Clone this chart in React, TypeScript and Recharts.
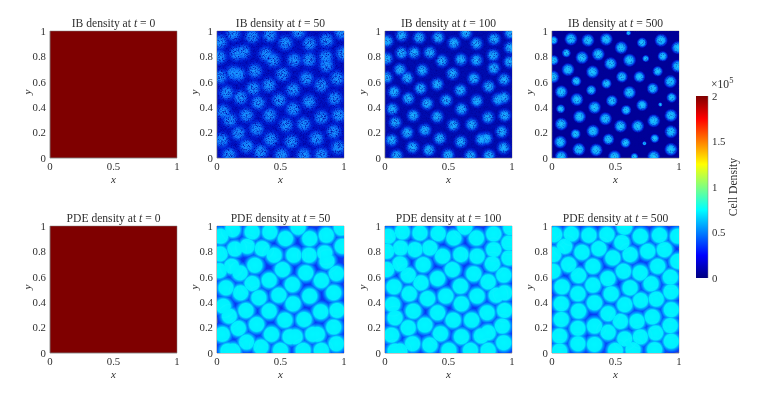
/**
 * IB / PDE cell density panels with a shared jet colorbar.
 * Each spot of cells is one scatter point as [x, y, spread].
 */
import { ScatterChart, Scatter, XAxis, YAxis, ReferenceArea, BarChart, Bar } from 'recharts'

type Spot = number[]

const xTicks = [0, 0.5, 1]
const yTicks = [0, 0.2, 0.4, 0.6, 0.8, 1]
const barTicks = [0, 0.5, 1, 1.5, 2]
const barData = [{ name: 'density', top: 2 }]

// jet colormap, fraction of the range -> colour
const jetOffsets = [0, 0.125, 0.375, 0.625, 0.875, 1]
const jetColors = ['#00007f', '#0000ff', '#00ffff', '#ffff00', '#ff0000', '#7f0000']

const ib50: Spot[] = [
  [.128,.979],[.277,.958],[.416,.966],[.639,.992],[.539,.906],[.730,.901],[.861,.927],[.024,.914],[.979,.992],
  [.154,.822],[.207,.835],[.385,.817],[.442,.770],[.607,.770],[.725,.775],[.856,.796],[.861,.730],[.992,.822],
  [.018,.796],[.128,.670],[.168,.660],[.298,.686],[.516,.660],[.704,.626],[.945,.626],[.024,.639],[.076,.513],
  [.285,.547],[.408,.573],[.599,.539],[.822,.573],[.186,.476],[.325,.435],[.490,.455],[.725,.442],[.927,.469],
  [.050,.364],[.102,.298],[.233,.338],[.416,.335],[.599,.385],[.822,.319],[.958,.338],[.312,.228],[.542,.259],
  [.683,.267],[.919,.207],[.037,.141],[.168,.194],[.424,.147],[.586,.128],[.783,.154],[.953,.084],[.233,.094],
  [.343,.050],[.097,.024],[.508,.024],[.683,.024],[.822,.024],
]
const ib100: Spot[] = [
  [.131,.966],[.270,.948],[.419,.948],[.636,.984],[.542,.906],[.720,.901],[.859,.937],[.018,.921],[.987,.984],
  [.131,.827],[.228,.830],[.353,.830],[.448,.764],[.597,.775],[.720,.770],[.851,.809],[.987,.869],[.013,.783],
  [.982,.757],[.118,.696],[.175,.631],[.293,.691],[.856,.707],[.531,.665],[.699,.626],[.013,.634],[.937,.618],
  [.071,.521],[.280,.547],[.411,.581],[.594,.534],[.817,.563],[.183,.469],[.332,.429],[.482,.455],[.723,.450],
  [.890,.461],[.935,.476],[.058,.385],[.223,.335],[.081,.280],[.411,.325],[.602,.385],[.812,.319],[.942,.335],
  [.537,.259],[.683,.264],[.314,.220],[.175,.199],[.919,.207],[.052,.141],[.432,.154],[.597,.128],[.759,.147],
  [.798,.154],[.217,.084],[.346,.063],[.935,.081],[.092,.018],[.497,.024],[.673,.018],[.819,.018],
]
const ib500: Spot[] = [
  [.013,.927,.7],[.149,.937],[.283,.927],[.427,.935],[.602,.984,.4],[.545,.869],[.709,.908,.8],[.859,.927],[.990,.869],
  [.113,.827,.7],[.236,.791],[.364,.817],[.461,.743],[.610,.770],[.738,.783,.55],[.872,.801,.8],[.013,.770,.8],
  [.126,.696],[.319,.678],[.832,.683,.8],[.990,.723],[.008,.639],[.191,.605,.8],[.429,.586,.8],[.550,.639,.9],
  [.688,.639,.9],[.932,.602],[.073,.521],[.309,.534,.8],[.610,.516],[.793,.547,.9],[.196,.461],[.471,.450,.9],
  [.709,.416,.9],[.942,.476,.8],[.068,.387,.7],[.335,.398],[.584,.377,.8],[.853,.421,.35],[.217,.325],[.421,.309],
  [.801,.293],[.937,.335],[.073,.267],[.539,.251],[.675,.251],[.186,.189,.8],[.322,.212],[.937,.207],[.065,.126],
  [.445,.147,.9],[.579,.120,.8],[.809,.154,.7],[.728,.115,.35],[.212,.068],[.348,.063],[.937,.068],[.073,.010],
  [.492,.010],[.649,.010,.6],[.801,.010],
]
const pde50: Spot[] = [
  [.123,.971],[.277,.953],[.416,.953],[.639,.990],[.539,.901],[.730,.901],[.861,.927],[.029,.919],[.979,.984],
  [.141,.819],[.238,.840],[.356,.822],[.450,.770],[.605,.770],[.725,.770],[.848,.788],[.866,.723],[.987,.840],
  [.024,.780],[.115,.683],[.181,.631],[.298,.691],[.516,.657],[.699,.631],[.940,.626],[.018,.649],[.071,.513],
  [.277,.547],[.411,.573],[.594,.539],[.822,.571],[.186,.474],[.330,.435],[.487,.455],[.730,.448],[.919,.474],
  [.050,.369],[.097,.291],[.228,.335],[.411,.330],[.599,.387],[.817,.325],[.945,.335],[.312,.225],[.534,.259],
  [.686,.264],[.919,.204],[.042,.147],[.168,.194],[.429,.147],[.575,.128],[.615,.128],[.755,.147],[.790,.147],
  [.233,.086],[.346,.047],[.085,.016],[.125,.016],[.500,.021],[.678,.021],[.822,.021],[.940,.073],
]
const pde100: Spot[] = [
  [.136,.953],[.275,.945],[.419,.940],[.628,.990],[.542,.906],[.720,.906],[.856,.937],[.026,.919],[.990,.985],
  [.976,.866],[.123,.827],[.236,.814],[.353,.827],[.453,.762],[.597,.775],[.725,.762],[.856,.814],[.013,.801],
  [.976,.749],[.118,.702],[.183,.613],[.301,.696],[.846,.702],[.531,.657],[.699,.623],[.935,.613],[.013,.657],
  [.071,.521],[.283,.552],[.414,.586],[.594,.526],[.812,.560],[.191,.466],[.335,.429],[.479,.448],[.725,.448],
  [.877,.455],[.942,.474],[.060,.382],[.223,.330],[.079,.277],[.414,.317],[.602,.387],[.804,.317],[.942,.335],
  [.537,.259],[.683,.259],[.314,.220],[.183,.199],[.924,.212],[.052,.141],[.437,.152],[.602,.128],[.759,.134],
  [.812,.160],[.217,.073],[.353,.063],[.935,.081],[.079,.016],[.118,.016],[.503,.021],[.673,.021],[.812,.021],
]
const pde500: Spot[] = [
  [.021,.932],[.152,.937],[.291,.927],[.432,.932],[.571,.990],[.696,.919],[.846,.927],[.990,.920],[.099,.840],
  [.236,.793],[.369,.822],[.479,.749],[.615,.775],[.754,.801],[.885,.814],[.013,.775],[.990,.722],[.131,.696],
  [.322,.683],[.832,.683],[.008,.644],[.209,.610],[.440,.586],[.563,.644],[.694,.631],[.932,.597],[.079,.521],
  [.322,.534],[.615,.513],[.780,.545],[.204,.466],[.466,.466],[.698,.414],[.937,.482],[.073,.387],[.335,.395],
  [.573,.380],[.821,.425],[.209,.330],[.442,.310],[.790,.284],[.939,.341],[.073,.264],[.539,.249],[.669,.249],
  [.204,.194],[.335,.212],[.931,.216],[.060,.134],[.442,.163],[.573,.111],[.696,.127],[.816,.158],[.204,.073],
  [.335,.067],[.939,.093],[.060,.016],[.500,.021],[.638,.027],[.808,.027],[.550,.870],
]

const FONT = '"Liberation Serif", serif'
const INK = '#303030'
const tickStyle = { fontSize: 10.8, fontFamily: FONT, fill: INK }
const axisNameStyle = { fontSize: 11, fontFamily: FONT, fill: INK, fontStyle: 'italic' }

interface PanelProps {
  id: string
  left: number
  top: number
  kind: string
  time: number
  base: string
  spots: Spot[]
  radius?: number
  stops?: [string, string, number][]
  noiseColor?: string
  grain?: string
}

const pdeStops: [string, string, number][] = [
  ['0%', '#00f6ff', 1],
  ['58%', '#00f0ff', 1],
  ['70%', '#00a4ff', 1],
  ['86%', '#0060ff', 1],
  ['100%', '#0a38f2', 1],
]

function Panel({ id, left, top, kind, time, base, spots, radius = 8, stops = pdeStops, noiseColor, grain = '3 0 0 0 -0.8' }: PanelProps) {
  const data = spots.map(s => ({ x: s[0], y: s[1], spread: s[2] ?? 1 }))
  const speckle = `url(#speckle-${id})`
  return (
    <div style={{ position: 'absolute', left: left - 34, top: top - 8, width: 172, height: 170 }}>
      <div style={{ position: 'absolute', left: 34, width: 127, top: -6, textAlign: 'center', fontFamily: FONT, fontSize: 11.6, lineHeight: '14px', color: INK, whiteSpace: 'nowrap' }}>
        {kind} density at <i>t</i> = {time}
      </div>
      <ScatterChart width={172} height={170} margin={{ top: 8, right: 11, bottom: 0, left: 0 }}>
        <defs>
          <radialGradient id={`spot-${id}`}>
            {stops.map(s => <stop key={s[0]} offset={s[0]} stopColor={s[1]} stopOpacity={s[2]} />)}
          </radialGradient>
          <filter id={`speckle-${id}`} x="-20%" y="-20%" width="140%" height="140%" colorInterpolationFilters="sRGB">
            <feTurbulence type="fractalNoise" baseFrequency="1.6" numOctaves="1" seed="4" result="noise" />
            <feColorMatrix in="noise" type="matrix" values={`0 0 0 0 0  0 0 0 0 0  0 0 0 0 0  ${grain}`} result="mask" />
            <feComposite in="SourceGraphic" in2="mask" operator="in" />
          </filter>
        </defs>
        <XAxis
          type="number"
          dataKey="x"
          domain={[0, 1]}
          ticks={xTicks}
          allowDataOverflow
          height={35}
          tickLine={false}
          tickSize={0}
          tickMargin={4}
          stroke="#808080"
          strokeWidth={0.5}
          tick={tickStyle}
          interval={0}
          label={{ value: 'x', position: 'insideBottom', offset: 10, style: axisNameStyle }}
        />
        <YAxis
          type="number"
          dataKey="y"
          domain={[0, 1]}
          ticks={yTicks}
          allowDataOverflow
          width={34}
          tickLine={false}
          tickSize={0}
          tickMargin={4}
          stroke="#808080"
          strokeWidth={0.5}
          tick={tickStyle}
          interval={0}
          label={{ value: 'y', angle: -90, position: 'insideLeft', offset: 11, style: axisNameStyle }}
        />
        <ReferenceArea x1={0} x2={1} y1={0} y2={1} fill={base} fillOpacity={1} stroke="#808080" strokeWidth={0.5} />
        {noiseColor && (
          <ReferenceArea
            x1={0}
            x2={1}
            y1={0}
            y2={1}
            shape={(p: any) => <rect x={p.x} y={p.y} width={p.width} height={p.height} fill={noiseColor} filter={speckle} />}
          />
        )}
        <Scatter
          data={data}
          isAnimationActive={false}
          shape={(p: any) => (
            <circle
              cx={p.cx}
              cy={p.cy}
              r={radius * p.payload.spread}
              fill={`url(#spot-${id})`}
              filter={noiseColor ? speckle : undefined}
              style={{ mixBlendMode: 'lighten' }}
            />
          )}
        />
      </ScatterChart>
    </div>
  )
}

function ColorBar() {
  return (
    <div style={{ position: 'absolute', left: 696, top: 86, width: 69, height: 200 }}>
      <div style={{ position: 'absolute', left: 15, top: -8, fontFamily: FONT, fontSize: 11.6, lineHeight: '14px', color: INK, whiteSpace: 'nowrap' }}>
        ×10<sup style={{ fontSize: 8.5, verticalAlign: 5, lineHeight: 0 }}>5</sup>
      </div>
      <BarChart width={69} height={200} data={barData} margin={{ top: 10, right: 0, bottom: 8, left: 0 }} barCategoryGap={0}>
        <defs>
          <linearGradient id="jet" x1="0" y1="1" x2="0" y2="0">
            {jetOffsets.map((o, i) => <stop key={o} offset={o} stopColor={jetColors[i]} />)}
          </linearGradient>
        </defs>
        <XAxis dataKey="name" hide />
        <YAxis
          orientation="right"
          type="number"
          domain={[0, 2]}
          ticks={barTicks}
          width={57}
          tickLine={false}
          tickSize={0}
          tickMargin={4}
          interval={0}
          stroke="#808080"
          strokeWidth={0.5}
          tick={{ ...tickStyle, textAnchor: 'start' }}
          label={{ value: 'Cell Density', angle: -90, position: 'insideRight', offset: 32, style: { ...tickStyle, fontSize: 11.6, textAnchor: 'middle' } }}
        />
        <Bar dataKey="top" fill="url(#jet)" isAnimationActive={false} />
      </BarChart>
    </div>
  )
}

const RED = '#7f0000'

export default function App() {
  return (
    <div style={{ position: 'absolute', left: 0, top: 0, width: 765, height: 397, background: '#fff', overflow: 'hidden' }}>
      <Panel id="ib0" left={50} top={31} kind="IB" time={0} base={RED} spots={[]} />
      <Panel
        id="ib50"
        left={217}
        top={31}
        kind="IB"
        time={50}
        base="#00009c"
        noiseColor="#0012c4"
        spots={ib50}
        radius={11}
        grain="2.6 0 0 0 -0.5"
        stops={[['0%', '#1c9cff', 1], ['40%', '#1080ff', 1], ['72%', '#0030e0', 0.75], ['100%', '#0018d0', 0]]}
      />
      <Panel
        id="ib100"
        left={385}
        top={31}
        kind="IB"
        time={100}
        base="#000096"
        noiseColor="#000cb0"
        spots={ib100}
        radius={8.5}
        grain="2.2 0 0 0 -0.2"
        stops={[['0%', '#20b8ff', 1], ['42%', '#1094ff', 1], ['75%', '#0030e0', 0.7], ['100%', '#0018d0', 0]]}
      />
      <Panel
        id="ib500"
        left={552}
        top={31}
        kind="IB"
        time={500}
        base="#00008c"
        noiseColor="#000098"
        spots={ib500}
        radius={7}
        grain="1.6 0 0 0 0.2"
        stops={[['0%', '#20ccff', 1], ['50%', '#10a4ff', 1], ['78%', '#0040f0', 0.8], ['100%', '#0018e8', 0]]}
      />
      <Panel id="pde0" left={50} top={226} kind="PDE" time={0} base={RED} spots={[]} />
      <Panel id="pde50" left={217} top={226} kind="PDE" time={50} base="#0a38f2" spots={pde50} radius={12} />
      <Panel id="pde100" left={385} top={226} kind="PDE" time={100} base="#0a38f2" spots={pde100} radius={12} />
      <Panel id="pde500" left={552} top={226} kind="PDE" time={500} base="#0a38f2" spots={pde500} radius={12} />
      <ColorBar />
    </div>
  )
}
